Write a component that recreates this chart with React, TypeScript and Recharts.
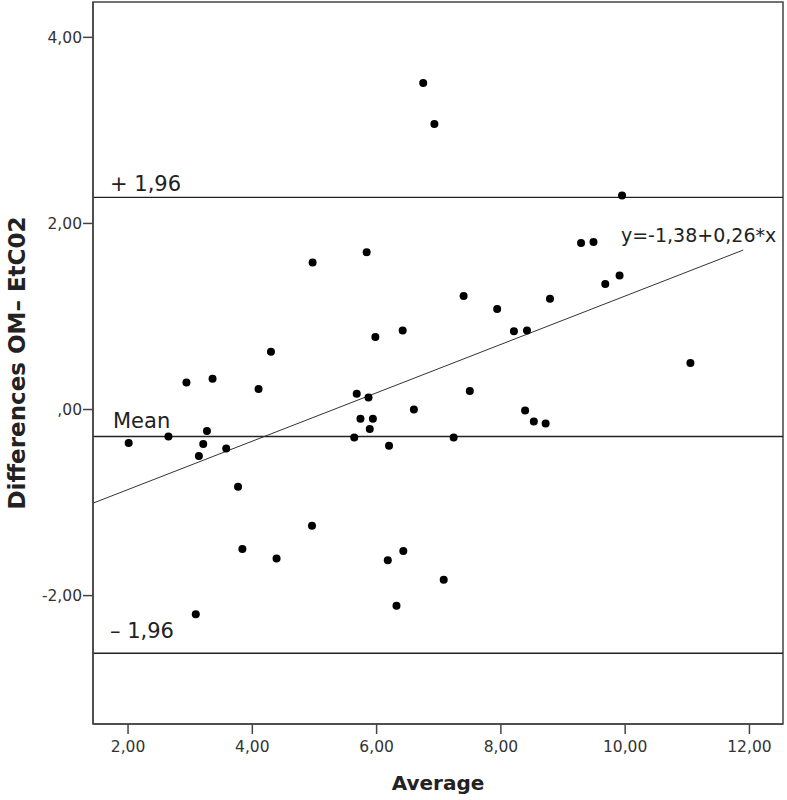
import {
  ScatterChart,
  Scatter,
  XAxis,
  YAxis,
  ReferenceLine,
  ReferenceArea,
} from "recharts";

// Bland-Altman: mean of the two methods vs their difference
const average = [
  2.01, 2.65, 2.94, 3.36, 3.27, 3.21, 3.14, 3.58, 4.1, 4.3, 3.77, 4.96, 3.84,
  4.39, 3.09, 6.75, 6.93, 5.84, 7.4, 7.94, 8.79, 4.97, 5.98, 6.42, 8.21, 8.42,
  5.68, 5.87, 7.5, 6.6, 5.74, 5.94, 5.89, 5.64, 6.2, 7.24, 8.39, 8.53, 8.72,
  6.18, 6.43, 7.08, 6.32, 9.95, 9.29, 9.49, 9.91, 9.68, 11.05,
];
const difference = [
  -0.36, -0.29, 0.29, 0.33, -0.23, -0.37, -0.5, -0.42, 0.22, 0.62, -0.83, -1.25,
  -1.5, -1.6, -2.2, 3.51, 3.07, 1.69, 1.22, 1.08, 1.19, 1.58, 0.78, 0.85, 0.84,
  0.85, 0.17, 0.13, 0.2, 0.0, -0.1, -0.1, -0.21, -0.3, -0.39, -0.3, -0.01,
  -0.13, -0.15, -1.62, -1.52, -1.83, -2.11, 2.3, 1.79, 1.8, 1.44, 1.35, 0.5,
];

const xTicks = [2, 4, 6, 8, 10, 12];
const yTicks = [-2, 0, 2, 4];
const xDomain = [1.436, 12.54];
const yDomain = [-3.38, 4.38];

const upperLimit = 2.28;
const meanDiff = -0.29;
const lowerLimit = -2.62;

// fit line as printed on the chart
const fitIntercept = -1.38;
const fitSlope = 0.26;
const fitRange = [1.436, 11.9];
const fitLabel = "y=-1,38+0,26*x";

const points = average.map((a, i) => ({ a, d: difference[i] }));

const fmt = (v: number) => {
  const s = Math.abs(v).toFixed(2).replace(".", ",");
  return (v < 0 ? "-" : "") + (Math.abs(v) < 1 ? s.slice(1) : s);
};

const FONT = "DejaVu Sans";
const tickStyle = { fill: "#333", fontSize: 15.5, fontFamily: FONT };
const frame = "#444";

const limitLabel = (text: string, dy: number, dx: number) => (props: any) => {
  const vb = props.viewBox;
  return (
    <text
      x={vb.x + dx}
      y={vb.y + dy}
      fill="#222"
      fontSize={21}
      fontFamily={FONT}
    >
      {text}
    </text>
  );
};

export default function App() {
  return (
    <div style={{ position: "absolute", left: 0, top: 0, background: "#fff" }}>
      <ScatterChart
        width={787}
        height={800}
        margin={{ top: 2, right: 4, bottom: 0, left: 0 }}
      >
        <XAxis
          type="number"
          dataKey="a"
          domain={xDomain}
          ticks={xTicks}
          allowDataOverflow
          tickFormatter={fmt}
          tick={tickStyle}
          tickSize={10}
          tickMargin={7}
          height={76}
          axisLine={{ stroke: frame, strokeWidth: 1.5 }}
          tickLine={{ stroke: frame, strokeWidth: 1.5 }}
          label={{
            content: (p: any) => (
              <text
                x={p.viewBox.x + p.viewBox.width / 2}
                y={p.viewBox.y + 66}
                textAnchor="middle"
                fontSize={20}
                fontWeight="bold"
                fontFamily={FONT}
                fill="#222"
              >
                Average
              </text>
            ),
          }}
        />
        <YAxis
          type="number"
          dataKey="d"
          domain={yDomain}
          ticks={yTicks}
          allowDataOverflow
          tickFormatter={fmt}
          tick={tickStyle}
          tickSize={10}
          tickMargin={1}
          width={93}
          axisLine={{ stroke: frame, strokeWidth: 1.5 }}
          tickLine={{ stroke: frame, strokeWidth: 1.5 }}
          label={{
            content: (p: any) => {
              const cx = 25;
              const cy = p.viewBox.y + p.viewBox.height / 2;
              return (
                <text
                  x={cx}
                  y={cy}
                  transform={`rotate(-90, ${cx}, ${cy})`}
                  textAnchor="middle"
                  fontSize={23}
                  fontWeight="bold"
                  fontFamily={FONT}
                  fill="#222"
                >
                  Differences OM– EtC02
                </text>
              );
            },
          }}
        />
        <ReferenceArea
          x1={xDomain[0]}
          x2={xDomain[1]}
          y1={yDomain[0]}
          y2={yDomain[1]}
          fill="none"
          fillOpacity={0}
          stroke={frame}
          strokeWidth={1.5}
        />
        <ReferenceLine
          y={upperLimit}
          stroke="#222"
          strokeWidth={1.4}
          label={{ content: limitLabel("+ 1,96", -6, 17) }}
        />
        <ReferenceLine
          y={meanDiff}
          stroke="#222"
          strokeWidth={1.4}
          label={{ content: limitLabel("Mean", -9, 20) }}
        />
        <ReferenceLine
          y={lowerLimit}
          stroke="#222"
          strokeWidth={1.4}
          label={{ content: limitLabel("– 1,96", -15, 17) }}
        />
        <ReferenceLine
          segment={[
            { x: fitRange[0], y: fitIntercept + fitSlope * fitRange[0] },
            { x: fitRange[1], y: fitIntercept + fitSlope * fitRange[1] },
          ]}
          stroke="#333"
          strokeWidth={1}
          ifOverflow="visible"
          label={{
            content: (p: any) => (
              <text
                x={p.viewBox.x + p.viewBox.width + 33}
                y={p.viewBox.y - 8}
                textAnchor="end"
                fontSize={19}
                fontFamily={FONT}
                fill="#222"
              >
                {fitLabel}
              </text>
            ),
          }}
        />
        <Scatter
          data={points}
          isAnimationActive={false}
          shape={(p: any) => <circle cx={p.cx} cy={p.cy} r={4} fill="#000" />}
        />
      </ScatterChart>
    </div>
  );
}
